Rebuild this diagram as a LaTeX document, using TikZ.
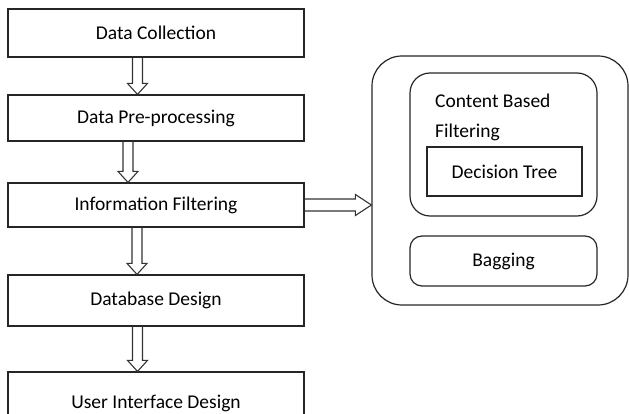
\documentclass[tikz,border=0pt]{standalone}
\usepackage{fontspec}
\setmainfont{Carlito}
\usetikzlibrary{calc}

% hollow block arrow pointing down, #1 from node, #2 to node, #3 x of shaft
\newcommand{\hollowdown}[3]{%
    \draw[blockarrow] let \p1=(#1.south), \p2=(#2.north) in
        ({#3pt-5pt},\y1) -- ({#3pt-5pt},{\y2+11pt}) -- ({#3pt-10pt},{\y2+11pt})
        -- (#3pt,\y2) -- ({#3pt+10pt},{\y2+11pt}) -- ({#3pt+5pt},{\y2+11pt})
        -- ({#3pt+5pt},\y1);
}

\tikzset{
    stepbox/.style={draw=black!85, line width=1.2pt, minimum width=296pt,
        inner sep=0pt, font=\fontsize{19.5}{30}\selectfont},
    groupbox/.style={draw=black!85, line width=1.2pt, inner sep=0pt},
    blockarrow/.style={draw=black!80, line width=1.1pt, line join=miter}
}

\begin{document}
\begin{tikzpicture}[x=1pt, y=-1pt]
        \useasboundingbox (0,0) rectangle (629,414);
        \clip (0,0) rectangle (629,414);

        % main flow
        \node[stepbox, minimum height=48pt] (collect) at (156,33) {Data Collection};
        \node[stepbox, minimum height=46pt] (preproc) at (156,118) {Data Pre-processing};
        \node[stepbox, minimum height=44pt] (infofilter) at (156,205) {Information Filtering};
        \node[stepbox, minimum height=51pt] (dbdesign) at (156,300.5) {Database Design};
        \node[stepbox, minimum height=62pt] (uidesign) at (156,403) {User Interface Design};

        \hollowdown{collect}{preproc}{137.5}
        \hollowdown{preproc}{infofilter}{128}
        \hollowdown{infofilter}{dbdesign}{137}
        \hollowdown{dbdesign}{uidesign}{137.5}

        % filtering methods
        \node[groupbox, rounded corners=30pt, minimum width=256pt, minimum height=249pt]
            (methods) at (500,180.5) {};
        \node[groupbox, rounded corners=20pt, minimum width=187pt, minimum height=143pt]
            (cbf) at (503.5,144.5) {};
        \node[anchor=north west, align=left, inner sep=0pt,
            font=\fontsize{19.5}{30}\selectfont] (cbftext) at (435,94) {Content Based\\Filtering};
        \node[groupbox, minimum width=155pt, minimum height=49pt,
            font=\fontsize{19.5}{30}\selectfont] (dtree) at (504.5,171.5) {Decision Tree};
        \node[groupbox, rounded corners=12pt, minimum width=187pt, minimum height=50pt,
            font=\fontsize{19.5}{30}\selectfont] (bagging) at (503.5,261) {Bagging};

        % arrow to the methods
        \draw[blockarrow] let \p1=(infofilter.east), \p2=(methods.west) in
            (\x1,{\y1+6pt}) -- ({\x2-16pt},{\y1+6pt}) -- ({\x2-16pt},{\y1+10.5pt})
            -- (\x2,\y1) -- ({\x2-16pt},{\y1-10.5pt}) -- ({\x2-16pt},{\y1-6pt})
            -- (\x1,{\y1-6pt});
\end{tikzpicture}
\end{document}
